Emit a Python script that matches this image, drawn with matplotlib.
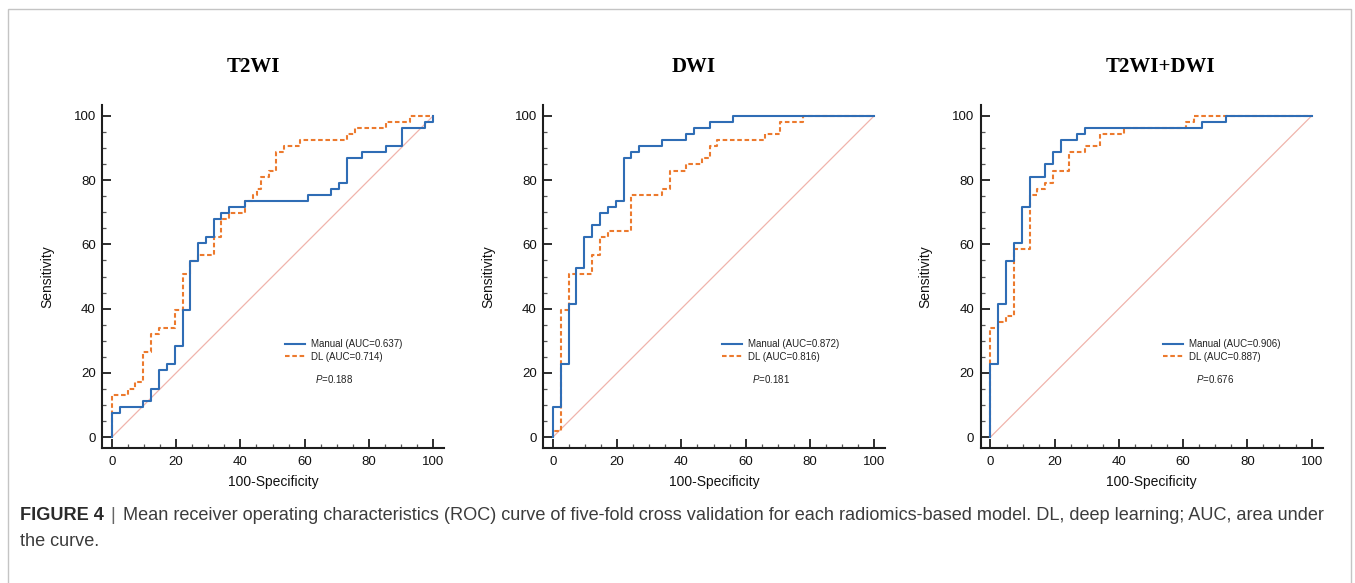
import matplotlib
matplotlib.use('Agg')
import matplotlib.pyplot as plt
from matplotlib.patches import Rectangle
from matplotlib.ticker import MultipleLocator

# corner points of each mean ROC step curve (100-Specificity, Sensitivity)
t2_manual_fpr = [0, 0, 2.4, 9.8, 12.2, 14.6, 17.1, 19.5, 22.0, 24.4, 26.8, 29.3, 31.7,
                 34.1, 36.6, 41.5, 61.0, 68.3, 70.7, 73.2, 78.0, 85.4, 90.2, 97.6, 100]
t2_manual_tpr = [0, 7.5, 9.4, 11.3, 15.1, 20.8, 22.6, 28.3, 39.6, 54.7, 60.4, 62.3, 67.9,
                 69.8, 71.7, 73.6, 75.5, 77.4, 79.2, 86.8, 88.7, 90.6, 96.2, 98.1, 100]
t2_dl_fpr = [0, 0, 4.9, 7.3, 9.8, 12.2, 14.6, 19.5, 22.0, 24.4, 26.8, 31.7, 34.1, 36.6,
             41.5, 43.9, 45.1, 46.3, 48.8, 51.2, 53.7, 58.5, 73.2, 75.6, 85.4, 92.7, 100]
t2_dl_tpr = [0, 13.2, 15.1, 17.0, 26.4, 32.1, 34.0, 39.6, 50.9, 54.7, 56.6, 62.3, 67.9, 69.8,
             73.6, 75.5, 77.4, 81.1, 83.0, 88.7, 90.6, 92.5, 94.3, 96.2, 98.1, 100, 100]

dwi_manual_fpr = [0, 0, 2.4, 4.9, 7.3, 9.8, 12.2, 14.6, 17.1, 19.5, 22.0, 24.4, 26.8,
                  34.1, 41.5, 43.9, 48.8, 56.1, 100]
dwi_manual_tpr = [0, 9.4, 22.6, 41.5, 52.8, 62.3, 66.0, 69.8, 71.7, 73.6, 86.8, 88.7, 90.6,
                  92.5, 94.3, 96.2, 98.1, 100, 100]
dwi_dl_fpr = [0, 0, 2.4, 4.9, 12.2, 14.6, 17.1, 24.4, 34.1, 36.6, 41.5, 46.3, 48.8,
              51.2, 65.9, 70.7, 78.0, 100]
dwi_dl_tpr = [0, 1.9, 39.6, 50.9, 56.6, 62.3, 64.2, 75.5, 77.4, 83.0, 84.9, 86.8, 90.6,
              92.5, 94.3, 98.1, 100, 100]

both_manual_fpr = [0, 0, 2.4, 4.9, 7.3, 9.8, 12.2, 17.1, 19.5, 22.0, 26.8, 29.3, 65.9, 73.2, 100]
both_manual_tpr = [0, 22.6, 41.5, 54.7, 60.4, 71.7, 81.1, 84.9, 88.7, 92.5, 94.3, 96.2, 98.1, 100, 100]
both_dl_fpr = [0, 0, 2.4, 4.9, 7.3, 12.2, 14.6, 17.1, 19.5, 24.4, 29.3, 34.1, 41.5, 61.0, 63.4, 100]
both_dl_tpr = [0, 34.0, 35.8, 37.7, 58.5, 75.5, 77.4, 79.2, 83.0, 88.7, 90.6, 94.3, 96.2, 98.1, 100, 100]

titles = ['T2WI', 'DWI', 'T2WI+DWI']
manual_auc = ['0.637', '0.872', '0.906']
dl_auc = ['0.714', '0.816', '0.887']
p_values = ['0.188', '0.181', '0.676']
chance_line = [0, 100]

caption_head = 'FIGURE 4'
caption_line1 = ('Mean receiver operating characteristics (ROC) curve of five-fold cross '
                 'validation for each radiomics-based model. DL, deep learning; AUC, area under')
caption_line2 = 'the curve.'

curves = [
    (t2_manual_fpr, t2_manual_tpr, t2_dl_fpr, t2_dl_tpr),
    (dwi_manual_fpr, dwi_manual_tpr, dwi_dl_fpr, dwi_dl_tpr),
    (both_manual_fpr, both_manual_tpr, both_dl_fpr, both_dl_tpr),
]

W, H = 1355, 583
plt.rcParams['font.family'] = ['Liberation Sans', 'DejaVu Sans']
plt.rcParams['mathtext.fontset'] = 'custom'
plt.rcParams['mathtext.it'] = 'Liberation Sans:italic'
plt.rcParams['mathtext.rm'] = 'Liberation Sans'

fig = plt.figure(figsize=(W / 100, H / 100), dpi=100)
fig.patch.set_facecolor('white')

# thin grey frame around the figure box
fig.add_artist(Rectangle((8 / W, -0.05), (1351 - 8) / W, 1.05 - 9 / H,
                         transform=fig.transFigure, fill=False,
                         edgecolor='#c4c4c4', linewidth=1.0))

blue = '#2f6db5'
orange = '#ec7a2e'
axes_left = [102, 543, 980.5]
legend_x = [0.535, 0.522, 0.533]
p_x = [0.623, 0.611, 0.629]
title_x = [253, 694, 1160]

for i, (mf, mt, df, dt) in enumerate(curves):
    ax = fig.add_axes([axes_left[i] / W, (H - 448) / H, 342 / W, 343 / H])
    ax.plot(chance_line, chance_line, color='#f0b4ac', linewidth=0.9)
    ax.plot(df, dt, drawstyle='steps-post', color=orange, linewidth=1.5,
            linestyle=(0, (2.2, 1.3)), label='DL (AUC=%s)' % dl_auc[i])
    ax.plot(mf, mt, drawstyle='steps-post', color=blue, linewidth=1.5,
            label='Manual (AUC=%s)' % manual_auc[i])
    ax.set_xlim(-3.1, 103.4)
    ax.set_ylim(-3.4, 103.4)

    for side in ['top', 'right']:
        ax.spines[side].set_visible(False)
    for side in ['left', 'bottom']:
        ax.spines[side].set_linewidth(1.5)
        ax.spines[side].set_color('#1e1e1e')

    ax.xaxis.set_major_locator(MultipleLocator(20))
    ax.yaxis.set_major_locator(MultipleLocator(20))
    ax.xaxis.set_minor_locator(MultipleLocator(5))
    ax.yaxis.set_minor_locator(MultipleLocator(5))
    ax.tick_params(which='major', direction='in', length=6.5, width=1.3,
                   color='#1e1e1e', labelsize=9.5, labelcolor='#111111')
    ax.tick_params(which='minor', direction='in', length=3, width=0.9, color='#555555')
    ax.tick_params(axis='x', pad=6)
    ax.tick_params(axis='y', pad=4.5)

    ax.set_xlabel('100-Specificity', fontsize=10, color='#111111')
    ax.set_ylabel('Sensitivity', fontsize=10, color='#111111')
    ax.xaxis.set_label_coords(0.5, -0.099)
    ax.xaxis.label.set_va('center')
    ax.yaxis.set_label_coords(-0.161, 0.5)
    ax.yaxis.label.set_va('center')

    handles, labels = ax.get_legend_handles_labels()
    ax.legend(handles[::-1], labels[::-1], loc='upper left',
              bbox_to_anchor=(legend_x[i], 0.318), frameon=False, fontsize=7,
              handlelength=2.1, handletextpad=0.6, labelspacing=0.3,
              borderpad=0, borderaxespad=0, labelcolor='#222222')
    ax.text(p_x[i], 0.201, r'$\it{P}$=%s' % p_values[i], transform=ax.transAxes,
            fontsize=7, va='center', ha='left', color='#222222')

    fig.text(title_x[i] / W, 1 - 67 / H, titles[i], fontsize=15, weight='bold',
             family=['Liberation Serif', 'DejaVu Serif'], ha='center', va='center')

# caption, fitted to the width of the reference text block
cap_font = ['Liberation Sans Narrow', 'Liberation Sans', 'DejaVu Sans']
renderer = fig.canvas.get_renderer()


def draw_caption(fs):
    y1 = 1 - 515 / H
    y2 = 1 - 541 / H
    t1 = fig.text(20 / W, y1, caption_head, fontsize=fs, weight='bold',
                  family=cap_font, va='center', color='#2b2b2b')
    x = t1.get_window_extent(renderer).x1 + 7
    t2 = fig.text(x / W, y1, '|', fontsize=fs, family=cap_font, va='center', color='#666666')
    x = t2.get_window_extent(renderer).x1 + 7
    t3 = fig.text(x / W, y1, caption_line1, fontsize=fs, family=cap_font,
                  va='center', color='#3c3c3c')
    t4 = fig.text(20 / W, y2, caption_line2, fontsize=fs, family=cap_font,
                  va='center', color='#3c3c3c')
    return [t1, t2, t3, t4], t3.get_window_extent(renderer).x1


fs = 14.5
texts, end = draw_caption(fs)
for _ in range(2):
    for t in texts:
        t.remove()
    fs = fs * (1322 - 20) / (end - 20)
    texts, end = draw_caption(fs)

fig.savefig('out.png', dpi=100, facecolor='white')
